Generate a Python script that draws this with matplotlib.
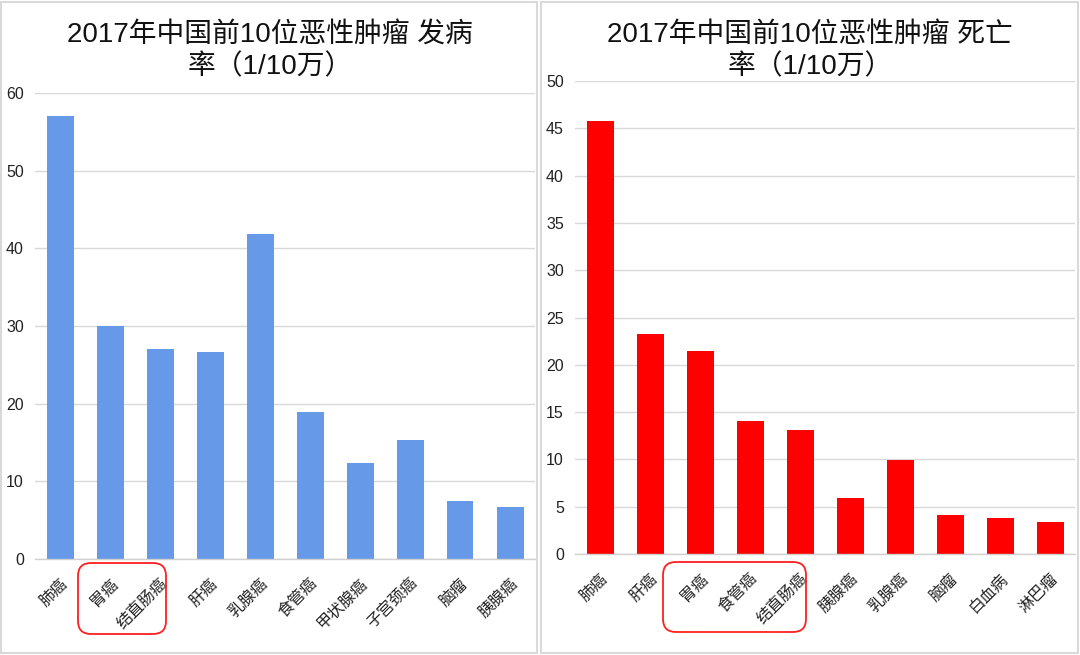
import matplotlib
matplotlib.use("Agg")
import matplotlib.pyplot as plt
from matplotlib.patches import FancyBboxPatch, Rectangle

plt.rcParams['font.family'] = ['Liberation Sans', 'Noto Sans CJK SC', 'DejaVu Sans']

inc_cats = ['肺癌', '胃癌', '结直肠癌', '肝癌', '乳腺癌', '食管癌', '甲状腺癌', '子宫颈癌', '脑瘤', '胰腺癌']
inc_vals = [57.1, 30.0, 27.0, 26.7, 41.8, 18.9, 12.4, 15.3, 7.5, 6.7]
mort_cats = ['肺癌', '肝癌', '胃癌', '食管癌', '结直肠癌', '胰腺癌', '乳腺癌', '脑瘤', '白血病', '淋巴瘤']
mort_vals = [45.8, 23.3, 21.5, 14.1, 13.1, 5.9, 9.9, 4.1, 3.8, 3.4]
inc_title = '2017年中国前10位恶性肿瘤 发病\n率（1/10万）'
mort_title = '2017年中国前10位恶性肿瘤 死亡\n率（1/10万）'
inc_ticks = [0, 10, 20, 30, 40, 50, 60]
mort_ticks = [0, 5, 10, 15, 20, 25, 30, 35, 40, 45, 50]

W, H = 1080, 655
fig = plt.figure(figsize=(W / 100, H / 100), dpi=100)

def fx(px):
    return px / W

def fy(py):
    return 1 - py / H

# panel frames
for x0, x1 in [(1, 537), (541, 1078)]:
    fig.patches.append(Rectangle((fx(x0), fy(653)), fx(x1 - x0), (653 - 2) / H,
                                 transform=fig.transFigure, fill=False,
                                 edgecolor='#d9d9d9', linewidth=1.5))

def panel(left, right, bottom, top, cats, vals, ticks, color, title, tcx):
    ax = fig.add_axes([fx(left), fy(bottom), fx(right - left), (bottom - top) / H])
    x = list(range(len(cats)))
    ax.bar(x, vals, width=0.54, color=color, zorder=3)
    ax.set_xlim(-0.5, len(cats) - 0.5)
    ax.set_ylim(ticks[0], ticks[-1])
    ax.set_yticks(ticks)
    ax.set_yticklabels([str(t) for t in ticks], fontsize=11.5, color='#222222')
    ax.set_xticks(x)
    ax.set_xticklabels(cats, rotation=45, ha='right', rotation_mode='anchor',
                       fontsize=11.5, color='#222222')
    ax.tick_params(axis='both', length=0)
    ax.tick_params(axis='x', pad=12)
    ax.tick_params(axis='y', pad=8)
    ax.grid(axis='y', color='#d9d9d9', linewidth=1, zorder=0)
    for s in ['top', 'right', 'left']:
        ax.spines[s].set_visible(False)
    ax.spines['bottom'].set_color('#d0d0d0')
    ax.spines['bottom'].set_linewidth(1)
    ax.spines['bottom'].set_zorder(4)
    fig.text(fx(tcx), fy(51), title, ha='center', va='center', fontsize=20,
             color='#111111', linespacing=1.3)
    return ax

panel(35, 535, 559, 93, inc_cats, inc_vals, inc_ticks, '#6699E8', inc_title, 270)
panel(575, 1075, 554, 81, mort_cats, mort_vals, mort_ticks, '#FF0000', mort_title, 810)

# red rounded highlight boxes
for (x0, y0, x1, y1) in [(78, 563, 166, 634), (663, 562, 806, 632)]:
    fig.patches.append(FancyBboxPatch((fx(x0), fy(y1)), fx(x1 - x0), (y1 - y0) / H,
                                      boxstyle='round,pad=0,rounding_size=0.012',
                                      transform=fig.transFigure, fill=False,
                                      edgecolor='#FF2020', linewidth=1.3,
                                      mutation_aspect=W / H))

fig.savefig('out.png', dpi=100, facecolor='white')
